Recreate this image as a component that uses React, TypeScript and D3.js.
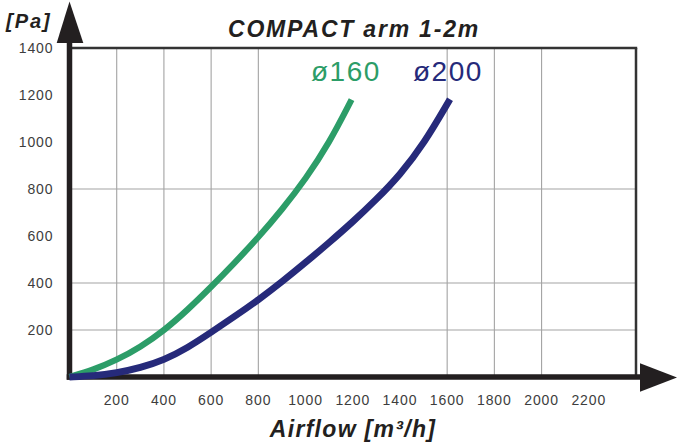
import React from "react";
import * as d3 from "d3";

const xTicks = [200, 400, 600, 800, 1000, 1200, 1400, 1600, 1800, 2000, 2200];
const yTicks = [200, 400, 600, 800, 1000, 1200, 1400];
const xGrid = [200, 400, 600, 800, 1600, 1800, 2000];
const yGrid = [200, 400, 800];

const d160Flow = [0, 100, 200, 300, 400, 500, 600, 700, 800, 900, 1000, 1100, 1195];
const d160Pa = [0, 30, 72, 127, 197, 285, 383, 486, 594, 712, 842, 995, 1180];
const d200Flow = [0, 100, 200, 300, 400, 500, 600, 700, 800, 900, 1000, 1100, 1200, 1300, 1400, 1500, 1612];
const d200Pa = [0, 4, 17, 39, 72, 124, 190, 258, 328, 405, 487, 572, 660, 755, 860, 990, 1182];

const W = 677;
const H = 448;
const FONT = "'Liberation Sans', Arial, Helvetica, sans-serif";
const GREEN = "#2c9d68";
const NAVY = "#262a7a";
const DARK = "#231f20";

export default function App() {
  const x = d3.scaleLinear().domain([0, 2400]).range([69.5, 636]);
  const y = d3.scaleLinear().domain([0, 1400]).range([377, 48]);

  const line = d3
    .line<[number, number]>()
    .x((d) => x(d[0]))
    .y((d) => y(d[1]))
    .curve(d3.curveBasis);

  const s160 = d160Flow.map((f, i) => [f, d160Pa[i]] as [number, number]);
  const s200 = d200Flow.map((f, i) => [f, d200Pa[i]] as [number, number]);

  return (
    <svg
      width={W}
      height={H}
      style={{ position: "absolute", left: 0, top: 0, background: "#fff" }}
      fontFamily={FONT}
    >
      <rect x={0} y={0} width={W} height={H} fill="#fff" />
      {/* grid */}
      {xGrid.map((v) => (
        <line key={"gx" + v} x1={x(v)} x2={x(v)} y1={y(1400)} y2={y(0)} stroke="#a3a3a3" strokeWidth={1.1} />
      ))}
      {yGrid.map((v) => (
        <line key={"gy" + v} x1={x(0)} x2={x(2400)} y1={y(v)} y2={y(v)} stroke="#a3a3a3" strokeWidth={1.1} />
      ))}
      {/* frame top and right */}
      <line x1={x(0)} x2={x(2400) + 1.2} y1={y(1400)} y2={y(1400)} stroke="#333" strokeWidth={2.5} />
      <line x1={x(2400)} x2={x(2400)} y1={y(1400)} y2={y(0)} stroke="#333" strokeWidth={2.5} />

      {/* tick labels */}
      {yTicks.map((v) => (
        <text key={"ty" + v} x={53.5} y={y(v) + 5} textAnchor="end" fontSize={14} letterSpacing={0.9} fill="#3d3d3d">
          {v}
        </text>
      ))}
      {xTicks.map((v) => (
        <text key={"tx" + v} x={x(v)} y={405} textAnchor="middle" fontSize={14} letterSpacing={0.9} fill="#3d3d3d">
          {v}
        </text>
      ))}

      {/* axes */}
      <line x1={x(0)} x2={x(0)} y1={y(0) + 2.8} y2={42} stroke={DARK} strokeWidth={5.5} />
      <line x1={x(0) - 2.8} x2={641} y1={y(0)} y2={y(0)} stroke={DARK} strokeWidth={5.5} />
      <path d={`M${x(0)},1.5 L83.3,43 L56.7,43 Z`} fill={DARK} />
      <path d={`M677,377.5 L640,363.3 L640,391.7 Z`} fill={DARK} />

      {/* curves */}
      <path d={line(s160) || ""} fill="none" stroke={GREEN} strokeWidth={6.2} />
      <path d={line(s200) || ""} fill="none" stroke={NAVY} strokeWidth={6.8} />

      {/* labels */}
      <text x={311} y={81} fontSize={28} fill={GREEN} letterSpacing={1.5}>
        ø160
      </text>
      <text x={413} y={81} fontSize={28} fill={NAVY} letterSpacing={1.5}>
        ø200
      </text>

      <text x={354} y={36.7} textAnchor="middle" fontSize={23} fontWeight="bold" fontStyle="italic" letterSpacing={1.8} fill={DARK}>
        COMPACT arm 1-2m
      </text>
      <text x={6} y={27.5} fontSize={20} fontWeight="bold" fontStyle="italic" letterSpacing={2} fill={DARK}>
        [Pa]
      </text>
      <text x={353} y={436.7} textAnchor="middle" fontSize={23} fontWeight="bold" fontStyle="italic" letterSpacing={1.3} fill={DARK}>
        Airflow [m³/h]
      </text>
    </svg>
  );
}
